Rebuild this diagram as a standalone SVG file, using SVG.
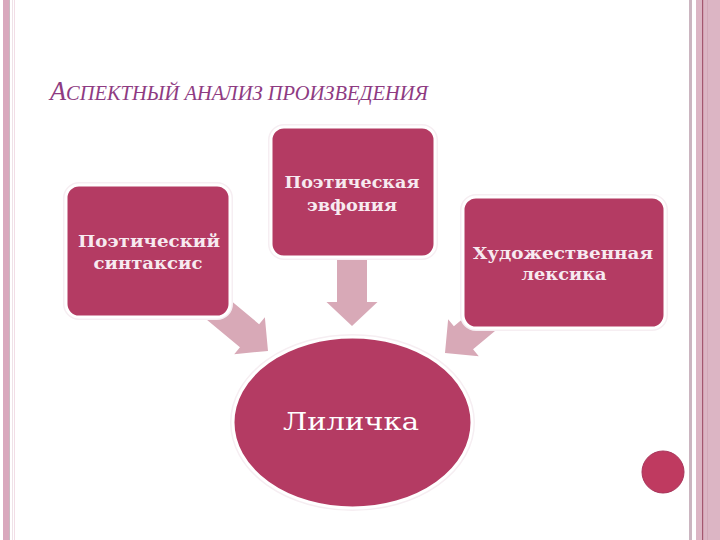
<svg xmlns="http://www.w3.org/2000/svg" width="720" height="540" viewBox="0 0 720 540">
<style>
.box{fill:#b43b63;stroke:#ffffff;stroke-width:3}
.halo{fill:none;stroke:#f6eef2;stroke-width:6}
.lbl{font-family:"DejaVu Serif","Liberation Serif",serif;font-weight:bold;font-size:16px;fill:#f7eaf0;text-anchor:middle}
.arrow{fill:#d8a9b7}
</style>
<rect width="720" height="540" fill="#ffffff"/>
<!-- left border -->
<rect x="3" y="0" width="6" height="540" fill="#d9a8bd"/>
<rect x="9" y="0" width="1" height="540" fill="#c9b8c0"/>
<rect x="12" y="0" width="1" height="540" fill="#efe2e8"/>
<rect x="14" y="0" width="1" height="540" fill="#f2dde6"/>
<!-- right border -->
<rect x="689" y="0" width="3" height="540" fill="#cbb5c0"/>
<rect x="696" y="0" width="24" height="540" fill="#dcb5c4"/>
<rect x="702" y="0" width="1.2" height="540" fill="#a4566f"/>
<rect x="707" y="0" width="1" height="540" fill="#d3a9b9"/>
<!-- title -->
<text x="50" y="100" textLength="378" lengthAdjust="spacingAndGlyphs" font-family="'Liberation Serif',serif" font-style="italic" fill="#8e3b82"><tspan font-size="27">А</tspan><tspan font-size="21">СПЕКТНЫЙ АНАЛИЗ ПРОИЗВЕДЕНИЯ</tspan></text>
<!-- connectors -->
<g id="connectors">
<path id="arrow-left" class="arrow" d="M0,0 L-24,-24 L-15,-24 L-15,-80 L15,-80 L15,-24 L24,-24 Z" transform="translate(268,351) rotate(-50.3)"/>
<path id="arrow-top" class="arrow" d="M0,0 L-25.5,-24 L-15,-24 L-15,-80 L15,-80 L15,-24 L25.5,-24 Z" transform="translate(352,326)"/>
<path id="arrow-right" class="arrow" d="M0,0 L-24,-24 L-15,-24 L-15,-80 L15,-80 L15,-24 L24,-24 Z" transform="translate(445,353) rotate(50.3)"/>
</g>
<!-- nodes -->
<g id="node-top">
<rect class="halo" x="271" y="127" width="164" height="130" rx="13"/>
<rect class="box" x="271" y="127" width="164" height="130" rx="13"/>
<text class="lbl" x="352" y="188" textLength="135" lengthAdjust="spacingAndGlyphs">Поэтическая</text>
<text class="lbl" x="352" y="211" textLength="90" lengthAdjust="spacingAndGlyphs">эвфония</text>
</g>
<g id="node-left">
<rect class="halo" x="66" y="185" width="164" height="132" rx="13"/>
<rect class="box" x="66" y="185" width="164" height="132" rx="13"/>
<text class="lbl" x="149" y="247" textLength="142" lengthAdjust="spacingAndGlyphs">Поэтический</text>
<text class="lbl" x="148" y="269" textLength="109" lengthAdjust="spacingAndGlyphs">синтаксис</text>
</g>
<g id="node-right">
<rect class="halo" x="463" y="197" width="202" height="131" rx="13"/>
<rect class="box" x="463" y="197" width="202" height="131" rx="13"/>
<text class="lbl" x="563" y="259" textLength="180" lengthAdjust="spacingAndGlyphs">Художественная</text>
<text class="lbl" x="564" y="280" textLength="85" lengthAdjust="spacingAndGlyphs">лексика</text>
</g>
<g id="node-center">
<ellipse cx="352.5" cy="422.5" rx="119.5" ry="85.5" fill="none" stroke="#f6eef2" stroke-width="6"/>
<ellipse cx="352.5" cy="422.5" rx="119.5" ry="85.5" class="box"/>
<text x="351" y="430" textLength="136" lengthAdjust="spacingAndGlyphs" font-family="'DejaVu Serif','Liberation Serif',serif" font-size="24" fill="#ffffff" text-anchor="middle">Лиличка</text>
</g>
<circle cx="663" cy="472" r="21" fill="#bf3a60" stroke="#a8345a" stroke-width="1"/>
</svg>
